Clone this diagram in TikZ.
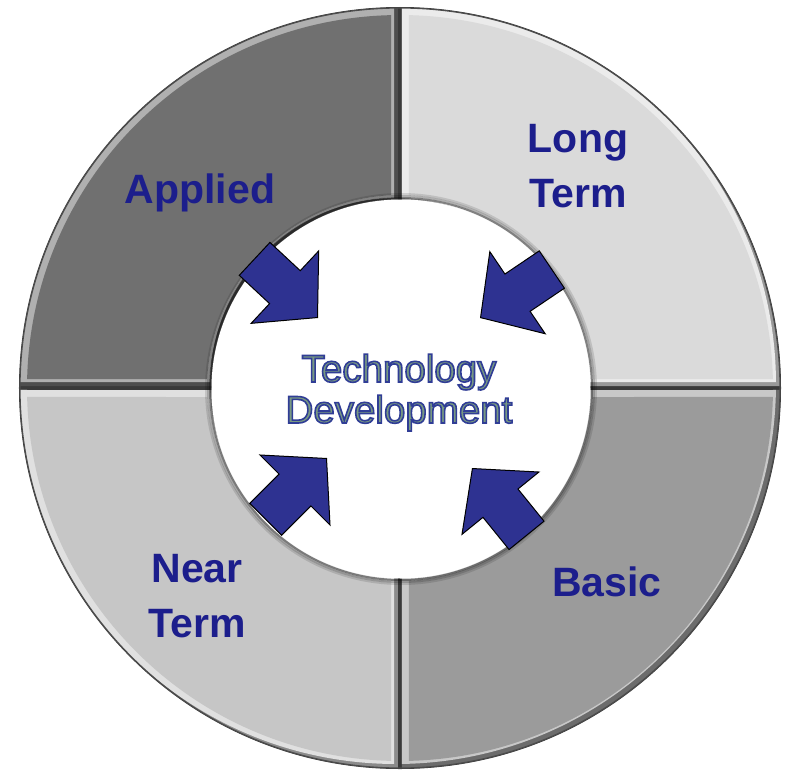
\documentclass[tikz,border=0pt]{standalone}
\usepackage{fontspec}
\setmainfont{Liberation Sans}
\usepackage{tikz}
\usetikzlibrary{shapes.arrows}

\definecolor{labelblue}{RGB}{28,30,140}
\definecolor{arrowblue}{RGB}{46,50,145}
\definecolor{techfill}{RGB}{112,142,122}
\definecolor{gapgray}{RGB}{58,58,58}
\definecolor{segTR}{RGB}{218,218,218}
\definecolor{segTL}{RGB}{112,112,112}
\definecolor{segBL}{RGB}{198,198,198}
\definecolor{segBR}{RGB}{155,155,155}

% quarter of the ring: start angle, half gap, outer radius, inner radius
\newcommand\ringpart[4]{({#1+asin(#2/#3)}:#3) arc[start angle={#1+asin(#2/#3)}, end angle={#1+90-asin(#2/#3)}, radius=#3]
  -- ({#1+90-asin(#2/#4)}:#4) arc[start angle={#1+90-asin(#2/#4)}, end angle={#1+asin(#2/#4)}, radius=#4] -- cycle}
% green-grey letters with a blue outline (text render mode 2)
\newcommand\outlined[1]{\special{pdf:literal direct 2 Tr 1.6 w 0.19 0.24 0.59 RG 0.47 0.6 0.51 rg}#1\special{pdf:literal direct 0 Tr}}

\begin{document}
\begin{tikzpicture}[x=1pt,y=1pt,
  seglabel/.style={text=labelblue,font=\fontsize{41}{55}\selectfont\bfseries,align=center,anchor=base},
  techtext/.style={text=techfill,font=\fontsize{38.5}{41}\selectfont,align=center,anchor=base},
  inarrow/.style={single arrow,draw=black,line width=1pt,fill=arrowblue,inner xsep=0pt,inner ysep=22pt,
    single arrow head extend=27pt,single arrow tip angle=96,minimum height=86pt,anchor=tip}]
\useasboundingbox (-400,-384) rectangle (386,388);

% dark backing, seen in the gaps
\fill[gapgray] (0,0) circle[radius=381];

% four bevelled quarters
\foreach \k/\c in {0/segTR,1/segTL,2/segBL,3/segBR}{
  \begin{scope}
    \clip \ringpart{90*\k}{2}{380}{186};
    \fill[fill=\c!70!black] \ringpart{90*\k}{2}{380}{186};
    \fill[fill=\c!55!white, shift={(-4,4)}] \ringpart{90*\k}{2}{380}{186};
    \fill[fill=\c] \ringpart{90*\k}{9}{373}{193};
  \end{scope}
}
\draw[black!70, line width=1.2] (0,0) circle[radius=380];

% hole in the middle with a soft shadow
\foreach \r/\o in {195/0.12,193/0.25,191/0.45}{
  \draw[black, opacity=\o, line width=2] (1,-1) circle[radius=\r];
}
\fill[white] (1,-1) circle[radius=189.5];

\node[inarrow, rotate=-43] (a1) at (-82,70) {};
\node[inarrow, rotate=214] (a2) at (80,70) {};
\node[inarrow, rotate=45] (a3) at (-73,-70) {};
\node[inarrow, rotate=129] (a4) at (72,-80) {};

% base anchor sits on the last line
\node[seglabel] (applied) at (-200,185) {Applied};
\node[seglabel] (longterm) at (178,181) {Long\\Term};
\node[seglabel] (nearterm) at (-203,-249) {Near\\Term};
\node[seglabel] (basic) at (207,-208) {Basic};

\node[techtext] (tech) at (-1,-35) {\outlined{Technology}\\\outlined{Development}};
\end{tikzpicture}
\end{document}
